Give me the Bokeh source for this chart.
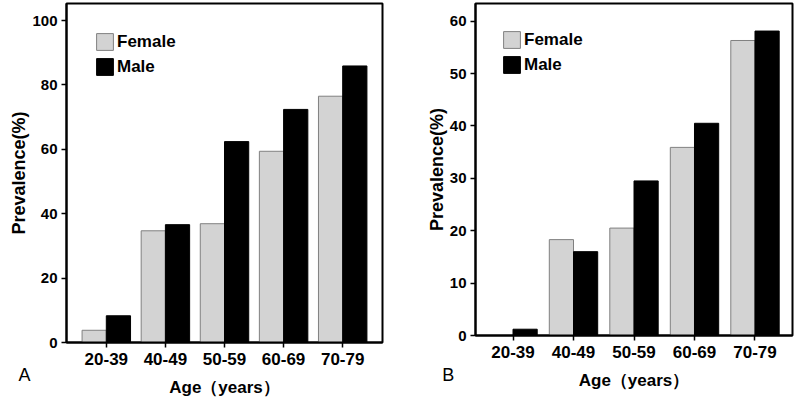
from bokeh.plotting import figure
from bokeh.layouts import row
from bokeh.models import (FactorRange, Range1d, Legend, LegendItem, Label,
                          ColumnDataSource, FixedTicker)
from bokeh.transform import dodge
from bokeh.embed import file_html
from bokeh.resources import INLINE

# ---- data ----
ages = ["20-39", "40-49", "50-59", "60-69", "70-79"]
female_a = [3.8, 34.7, 36.9, 59.4, 76.5]
male_a = [8.3, 36.6, 62.4, 72.4, 85.9]
female_b = [0.0, 18.3, 20.5, 35.9, 56.3]
male_b = [1.2, 16.0, 29.5, 40.5, 58.1]
ticks_a = [0, 20, 40, 60, 80, 100]
ticks_b = [0, 10, 20, 30, 40, 50, 60]
sexes = ["Female", "Male"]
letters = ["A", "B"]
x_title = "Age（years）"
y_title = "Prevalence(%)"

FONT = "Liberation Sans"
FEMALE_FILL = "#d3d3d3"
FEMALE_LINE = "#808080"


def make_panel(female, male, ticks, ymax, letter, cfg):
    src = ColumnDataSource(dict(age=ages, female=female, male=male))
    p = figure(width=400, height=cfg["h"], output_backend="svg", toolbar_location=None,
               x_range=FactorRange(factors=ages, range_padding=cfg["pad"],
                                   range_padding_units="absolute"),
               y_range=Range1d(0, ymax),
               min_border_left=cfg["bl"], min_border_right=cfg["br"],
               min_border_top=3, min_border_bottom=58)
    p.background_fill_color = "white"
    p.border_fill_color = "white"
    w = cfg["bw"]
    rf = p.vbar(x=dodge("age", -w / 2, range=p.x_range), top="female", width=w,
                source=src, fill_color=FEMALE_FILL, line_color=FEMALE_LINE, line_width=1)
    rm = p.vbar(x=dodge("age", w / 2, range=p.x_range), top="male", width=w,
                source=src, fill_color="black", line_color="black", line_width=1)

    p.xgrid.grid_line_color = None
    p.ygrid.grid_line_color = None
    p.outline_line_color = "black"
    p.outline_line_width = 2

    for ax in (p.xaxis[0], p.yaxis[0]):
        ax.axis_line_width = 2
        ax.axis_line_color = "black"
        ax.major_tick_in = 0
        ax.major_tick_out = 5
        ax.major_tick_line_width = 1.5
        ax.major_tick_line_color = "black"
        ax.minor_tick_line_color = None
        ax.major_label_text_font = FONT
        ax.major_label_text_font_style = "bold"
        ax.major_label_text_color = "black"
        ax.axis_label_text_font = FONT
        ax.axis_label_text_font_style = "bold"
        ax.axis_label_text_color = "black"

    p.yaxis.ticker = FixedTicker(ticks=ticks)
    p.yaxis.major_label_text_font_size = "15px"
    p.yaxis.major_label_standoff = 4
    p.yaxis.axis_label = y_title
    p.yaxis.axis_label_text_font_size = "18px"
    p.yaxis.axis_label_standoff = cfg["ys"]

    p.xaxis.major_label_text_font_size = "17px"
    p.xaxis.major_label_standoff = 5
    p.xaxis.axis_label = x_title
    p.xaxis.axis_label_text_font_size = "17px"
    p.xaxis.axis_label_standoff = 10

    legend = Legend(items=[LegendItem(label=sexes[0], renderers=[rf]),
                           LegendItem(label=sexes[1], renderers=[rm])],
                    location="top_left", margin=cfg["lm"], padding=0,
                    glyph_width=21, glyph_height=21, label_height=21, spacing=4,
                    label_standoff=2, border_line_color=None,
                    background_fill_alpha=0,
                    label_text_font=FONT, label_text_font_style="bold",
                    label_text_font_size="17px", label_text_color="black")
    p.add_layout(legend)

    # panel letter: placed in a side panel so it is not clipped to the frame
    p.add_layout(Label(x=cfg["lx"], y=cfg["ly"], text=letter, text_font=FONT,
                       text_font_size="18px", text_color="black",
                       text_align="left", text_baseline="alphabetic"), cfg["lside"])
    return p


pa = make_panel(female_a, male_a, ticks_a, 105.3, letters[0],
                dict(h=400, pad=0.1735, bl=66, br=18, bw=0.41, lm=28, ys=0,
                     lx=-0.986, ly=-10.0, lside="right"))
pb = make_panel(female_b, male_b, ticks_b, 63.36, letters[1],
                dict(h=393, pad=0.12, bl=75, br=8, bw=0.40, lm=26, ys=0,
                     lx=-0.671, ly=-7.45, lside="left"))

layout = row(pa, pb)
open("out.html", "w").write(file_html(layout, INLINE))
